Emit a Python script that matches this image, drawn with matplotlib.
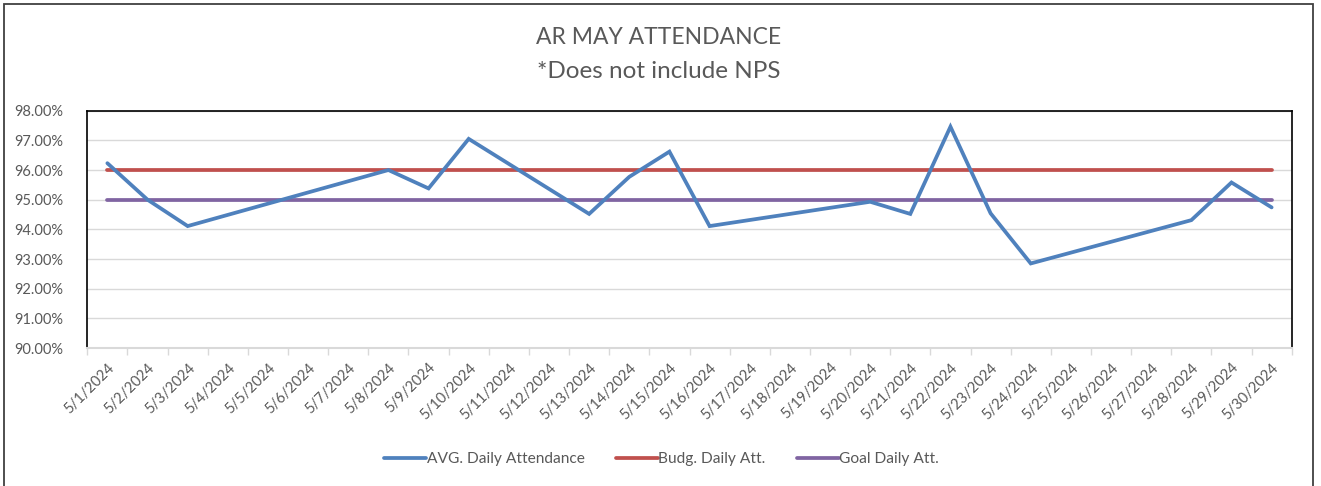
import matplotlib
matplotlib.use("Agg")
import matplotlib.pyplot as plt
from matplotlib.patches import Rectangle
from matplotlib.ticker import FuncFormatter, FixedLocator

plt.rcParams['font.family'] = ['Lato', 'DejaVu Sans']

# ---- data ----
dates = [f"5/{d}/2024" for d in range(1, 31)]
att_dates = ["5/1/2024", "5/2/2024", "5/3/2024", "5/8/2024", "5/9/2024", "5/10/2024",
             "5/13/2024", "5/14/2024", "5/15/2024", "5/16/2024", "5/20/2024", "5/21/2024",
             "5/22/2024", "5/23/2024", "5/24/2024", "5/28/2024", "5/29/2024", "5/30/2024"]
att_values = [96.23, 95.00, 94.11, 96.00, 95.38, 97.05,
              94.52, 95.77, 96.62, 94.11, 94.93, 94.52,
              97.46, 94.54, 92.85, 94.31, 95.58, 94.74]
budget_values = [96.0] * len(dates)
goal_values = [95.0] * len(dates)
yticks = [90, 91, 92, 93, 94, 95, 96, 97, 98]

BLUE = "#4F81BD"
RED = "#C0504D"
PURPLE = "#8064A2"
TXT = "#595959"

W, H = 1321, 486
fig = plt.figure(figsize=(W / 100, H / 100), dpi=100)

# plot area in pixels
L, R, T, B = 87.3, 1291.7, 110.7, 348.0
ax = fig.add_axes([L / W, 1 - B / H, (R - L) / W, (B - T) / H])

xpos = list(range(len(dates)))
att_x = [dates.index(d) for d in att_dates]

ax.plot(xpos, budget_values, color=RED, lw=2.7, solid_capstyle='round', zorder=3,
        label="Budg. Daily Att.")
ax.plot(xpos, goal_values, color=PURPLE, lw=2.7, solid_capstyle='round', zorder=3,
        label="Goal Daily Att.")
ax.plot(att_x, att_values, color=BLUE, lw=2.7, solid_capstyle='round',
        solid_joinstyle='miter', zorder=4, label="AVG. Daily Attendance")

ax.set_xlim(-0.5, len(dates) - 0.5)
ax.set_ylim(90, 98)
ax.set_yticks(yticks)
ax.yaxis.set_major_formatter(FuncFormatter(lambda v, p: f"{v:.2f}%"))
ax.grid(axis='y', color="#D9D9D9", lw=1.0, zorder=0)
ax.set_axisbelow(True)

# x ticks: marks at boundaries, labels at centers
ax.xaxis.set_major_locator(FixedLocator([i - 0.5 for i in range(len(dates) + 1)]))
ax.xaxis.set_major_formatter(FuncFormatter(lambda v, p: ""))
ax.xaxis.set_minor_locator(FixedLocator(xpos))
ax.set_xticklabels(dates, minor=True, rotation=45, ha='right', va='top',
                   rotation_mode='anchor', fontsize=10.5, color=TXT)
ax.tick_params(axis='x', which='major', length=5, width=1, color="#D9D9D9",
               direction='out')
ax.tick_params(axis='x', which='minor', length=0, pad=9)
ax.tick_params(axis='y', length=0, pad=17, labelsize=10.5, labelcolor=TXT)

for s in ['left', 'top', 'right']:
    ax.spines[s].set_color("black")
    ax.spines[s].set_linewidth(1.2)
ax.spines['bottom'].set_color("#D9D9D9")
ax.spines['bottom'].set_linewidth(1.5)

# title
fig.text(659 / W, 1 - 37 / H, "AR MAY ATTENDANCE", ha='center', va='center',
         fontsize=16.5, color=TXT)
fig.text(659 / W, 1 - 71 / H, "*Does not include NPS", ha='center', va='center',
         fontsize=17.5, color=TXT)

# legend
handles, labels = ax.get_legend_handles_labels()
order = [2, 0, 1]
fig.legend([handles[i] for i in order], [labels[i] for i in order],
           loc='center', bbox_to_anchor=(661.5 / W, 1 - 459 / H), ncol=3,
           frameon=False, fontsize=11.2, labelcolor=TXT, handlelength=2.7,
           handletextpad=0.05, columnspacing=2.0)

# outer chart border
fig.patches.append(Rectangle((3.5 / W, -0.05), (1312.5 - 3.5) / W, 1.05 - 3.5 / H,
                             transform=fig.transFigure, fill=False,
                             edgecolor="#404040", lw=1.3))

fig.savefig("out.png", dpi=100)
